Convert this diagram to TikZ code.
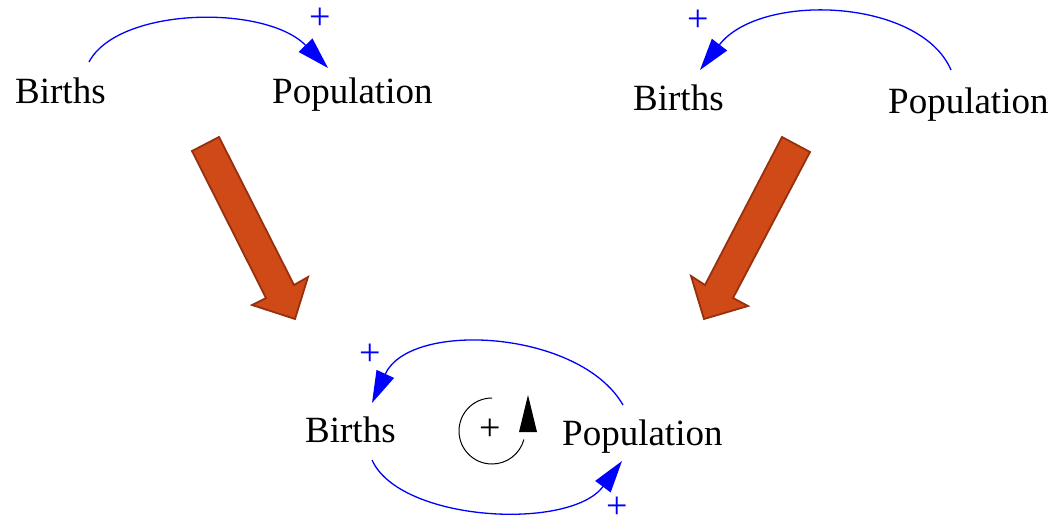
\documentclass[tikz,border=0pt]{standalone}
\usepackage{fontspec}
\setmainfont{Liberation Serif}
\usetikzlibrary{arrows.meta}
\definecolor{arrowfill}{RGB}{208,74,23}
\definecolor{arrowedge}{RGB}{150,48,14}
\begin{document}
\begin{tikzpicture}[x=1pt,y=-1pt,
  lbl/.style={anchor=base west,inner sep=0pt,font=\fontsize{37}{40}\selectfont},
  sgn/.style={inner sep=0pt,font=\fontsize{38}{40}\selectfont,text=blue},
  link/.style={draw=blue,line width=1.3pt,-{Triangle[length=32pt,width=19pt]}},
  bigarrow/.style={fill=arrowfill,draw=arrowedge,line width=1.8pt,line join=miter}]
\useasboundingbox (0,0) rectangle (1054,522);
% labels
\node[lbl] (b1) at (15,103) {Births};
\node[lbl] (p1) at (272,103) {Population};
\node[lbl] (b2) at (633,110) {Births};
\node[lbl] (p2) at (888,113) {Population};
\node[lbl] (b3) at (305,442) {Births};
\node[lbl] (p3) at (562,445) {Population};
% top-left link
\draw[link] ([shift={(74,-41)}]b1.base west) .. controls +(29,-55) and +(-63,-64) .. ([shift={(56,-35)}]p1.base west);
\node[sgn] (s1) at (320,19) {+};
% top-right link
\draw[link] ([shift={(63,-43)}]p2.base west) .. controls +(-31,-72) and +(60,-78) .. ([shift={(67,-40)}]b2.base west);
\node[sgn] (s2) at (698,21) {+};
% bottom links
\draw[link] ([shift={(61,-40)}]p3.base west) .. controls +(-43,-75) and +(38,-83) .. ([shift={(67,-39)}]b3.base west);
\node[sgn] (s3) at (370,355) {+};
\draw[link] ([shift={(67,18)}]b3.base west) .. controls +(28,62) and +(-52,70) .. ([shift={(60,16)}]p3.base west);
\node[sgn] (s4) at (617,508) {+};
% loop symbol
\draw[black,line width=1pt] (492,398) arc[start angle=270,end angle=15,radius=33];
\fill[black] (519,432) -- (528,395) -- (537,432) -- cycle;
\node[sgn,text=black] (s5) at (490,430) {+};
% big orange arrows
\draw[bigarrow] (192,151) -- (219,137) -- (294,285) -- (308,277) -- (295,319) -- (252,305) -- (266,298) -- cycle;
\draw[bigarrow] (782,137) -- (810,152) -- (733,298) -- (748,306) -- (704,319) -- (691,276) -- (705,285) -- cycle;
\end{tikzpicture}
\end{document}
